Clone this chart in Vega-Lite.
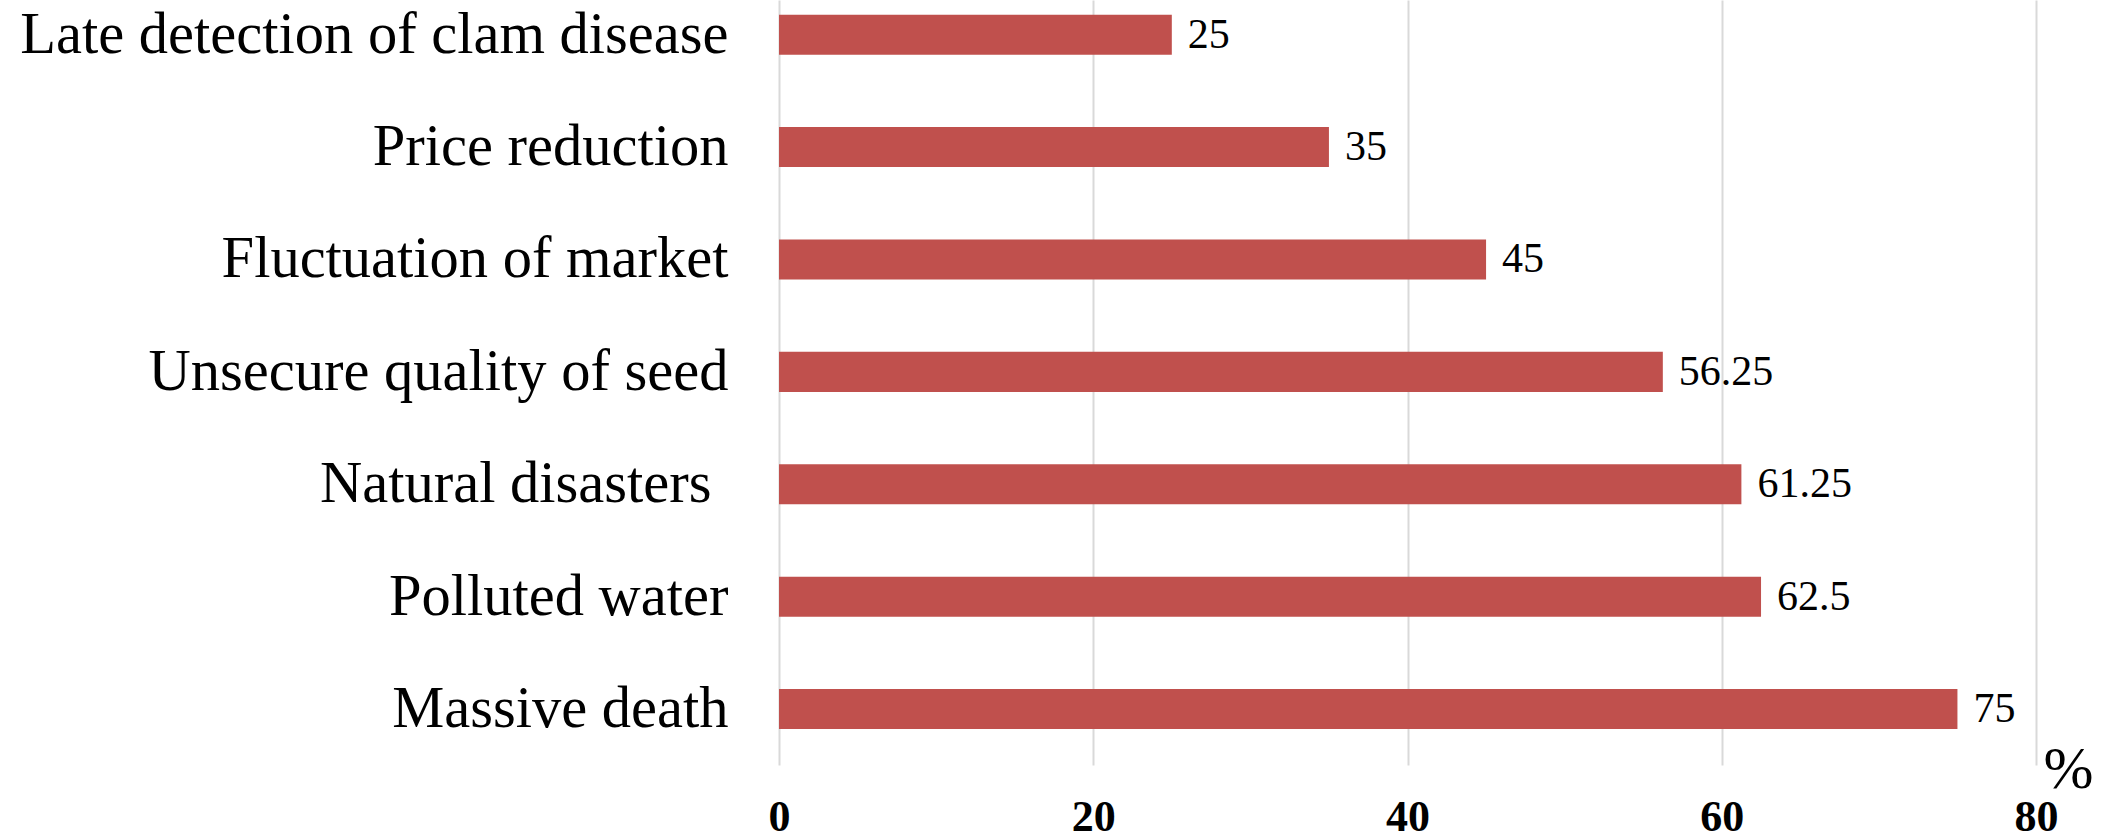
{
  "$schema": "https://vega.github.io/schema/vega-lite/v6.json",
  "autosize": {"type": "none"},
  "padding": {"left": 779, "top": 0, "right": 79, "bottom": 75},
  "width": 1257,
  "height": 765,
  "background": "white",
  "config": {"view": {"stroke": null}},
  "data": {"values": [
    {"cat": "Late detection of clam disease", "v": 25},
    {"cat": "Price reduction", "v": 35},
    {"cat": "Fluctuation of market", "v": 45},
    {"cat": "Unsecure quality of seed", "v": 56.25},
    {"cat": "Natural disasters ", "v": 61.25},
    {"cat": "Polluted water", "v": 62.5},
    {"cat": "Massive death", "v": 75}
  ]},
  "encoding": {
    "y": {
      "field": "cat", "type": "nominal", "sort": null,
      "scale": {"paddingInner": 0.644, "paddingOuter": 0.225, "align": 0.29},
      "axis": {"title": null, "domain": false, "ticks": false, "labelFont": "Liberation Serif", "labelFontSize": 58.5, "labelColor": "black",
        "labelPadding": {"condition": {"test": "datum.value === 'Natural disasters '", "value": 68}, "value": 51}, "labelLimit": 0}
    },
    "x": {
      "field": "v", "type": "quantitative",
      "scale": {"domain": [0, 80], "nice": false},
      "axis": {"title": "%", "values": [0, 20, 40, 60, 80], "domain": false, "ticks": false, "grid": true, "gridColor": "#D9D9D9", "gridWidth": 2,
        "labelFont": "Liberation Serif", "labelFontSize": 44, "labelFontWeight": "bold", "labelColor": "black", "labelPadding": 30, "labelFlush": false,
        "titleFont": "Liberation Serif", "titleFontSize": 60, "titleFontWeight": "normal", "titleColor": "black", "titleX": 1289, "titleY": 22, "titleBaseline": "alphabetic", "titleAlign": "center", "titleAnchor": null}
    }
  },
  "layer": [
    {"mark": {"type": "bar", "color": "#C0504D"}},
    {"mark": {"type": "text", "align": "left", "baseline": "middle", "dx": 16, "font": "Liberation Serif", "fontSize": 42, "color": "black"},
     "encoding": {"text": {"field": "v", "type": "quantitative"}}}
  ]
}
